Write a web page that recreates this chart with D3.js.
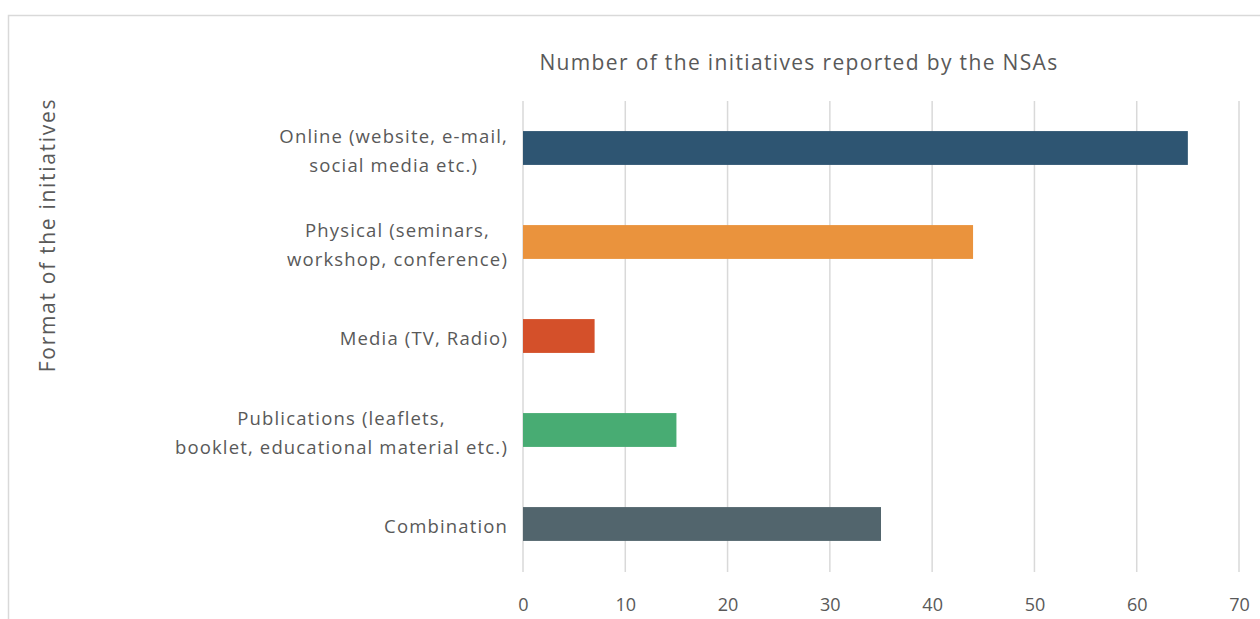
<!DOCTYPE html>
<html><head><meta charset="utf-8">
<script src="https://cdn.jsdelivr.net/npm/d3@7"></script>
<style>body{margin:0;background:#fff;}svg{display:block;font-family:"Open Sans",sans-serif;}</style>
</head><body><svg id="c" width="1260" height="619"></svg>
<script>
const categories = [
  ["Online (website, e-mail,", "social media etc.)"],
  ["Physical (seminars,", "workshop, conference)"],
  ["Media (TV, Radio)"],
  ["Publications (leaflets,", "booklet, educational material etc.)"],
  ["Combination"]
];
const values = [65, 44, 7, 15, 35];
const colors = ["#2e5572", "#ea933d", "#d4502a", "#48ac73", "#52656d"];
const tickValues = [0, 10, 20, 30, 40, 50, 60, 70];
const title = "Number of the initiatives reported by the NSAs";
const yTitle = "Format of the initiatives";

const svg = d3.select("#c");
svg.append("rect").attr("x", 8.5).attr("y", 15.5).attr("width", 1300).attr("height", 700)
  .attr("fill", "none").attr("stroke", "#d9d9d9").attr("stroke-width", 1.5);

const x = d3.scaleLinear().domain([0, 70]).range([523, 1239]);
const y = d3.scaleBand().domain(d3.range(values.length)).range([101, 571]).paddingInner(0.64).paddingOuter(0.32);

const grid = svg.append("g");
grid.selectAll("line").data(tickValues).join("line")
  .attr("x1", d => x(d)).attr("x2", d => x(d)).attr("y1", 101).attr("y2", 572)
  .attr("stroke", "#d9d9d9").attr("stroke-width", 1.5);

svg.append("g").selectAll("rect").data(values).join("rect")
  .attr("x", x(0)).attr("y", (d, i) => y(i)).attr("width", d => x(d) - x(0))
  .attr("height", y.bandwidth()).attr("fill", (d, i) => colors[i]);

const xAxis = svg.append("g").attr("transform", "translate(0,573)")
  .call(d3.axisBottom(x).tickValues(tickValues).tickSize(0).tickPadding(25));
xAxis.select(".domain").remove();
xAxis.selectAll("text").attr("font-size", 18).attr("fill", "#595959").attr("font-family", "Open Sans");

const labels = svg.append("g");
const rightEdge = 508;
categories.forEach((lines, i) => {
  const cy = y(i) + y.bandwidth() / 2;
  const t = labels.append("text").attr("text-anchor", "middle").attr("font-size", 18.5)
    .attr("letter-spacing", 1.15).attr("fill", "#595959");
  const spans = lines.map((ln, j) =>
    t.append("tspan").attr("y", cy + (j - (lines.length - 1) / 2) * 29 + 9).text(ln));
  const maxW = d3.max(spans, s => s.node().getComputedTextLength());
  spans.forEach(s => s.attr("x", rightEdge - maxW / 2));
});

svg.append("text").attr("x", 799).attr("y", 70).attr("text-anchor", "middle")
  .attr("font-size", 21).attr("letter-spacing", 1.35).attr("fill", "#595959").text(title);

svg.append("text").attr("transform", "translate(55,235) rotate(-90)").attr("text-anchor", "middle")
  .attr("font-size", 21).attr("letter-spacing", 1.7).attr("fill", "#595959").text(yTitle);
</script></body></html>
